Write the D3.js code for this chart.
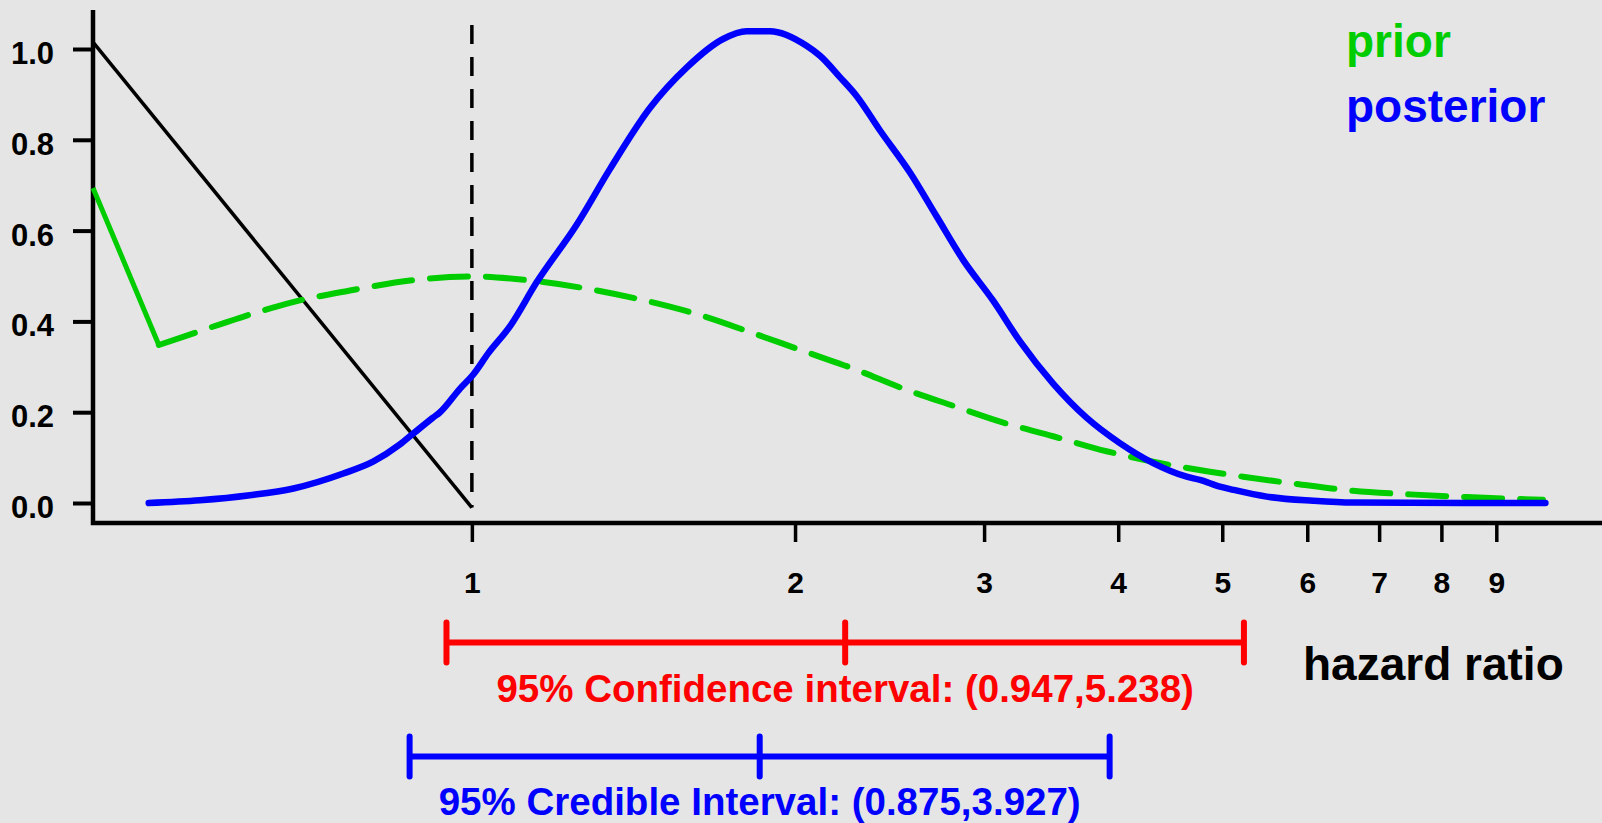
<!DOCTYPE html>
<html>
<head>
<meta charset="utf-8">
<script src="https://cdn.jsdelivr.net/npm/d3@7"></script>
<style>
  html, body { margin:0; padding:0; background:#e5e5e5; }
  svg { display:block; font-family:"Liberation Sans", Arial, Helvetica, sans-serif; font-weight:bold; }
</style>
</head>
<body>
<div id="chart-area"></div>
<script>
// hazard ratio ticks
var hrTicks = [1, 2, 3, 4, 5, 6, 7, 8, 9];
var densityTicks = [0, 0.2, 0.4, 0.6, 0.8, 1.0];

// posterior density
var postHR = [0.50, 0.558, 0.621, 0.682, 0.759, 0.809, 0.857, 0.882, 0.920, 0.934, 0.975, 1.003,
    1.036, 1.085, 1.149, 1.252, 1.345, 1.465, 1.585, 1.714, 1.803, 1.895, 2.050, 2.110, 2.202,
    2.283, 2.399, 2.559, 2.710, 2.869, 3.060, 3.240, 3.479, 3.737, 4.014, 4.312, 4.633, 4.767,
    4.975, 5.120, 5.500, 6.074, 6.618, 10.0];
var postDens = [0.000, 0.006, 0.017, 0.032, 0.065, 0.091, 0.129, 0.153, 0.188, 0.200, 0.252, 0.283,
    0.330, 0.389, 0.486, 0.613, 0.736, 0.870, 0.959, 1.022, 1.039, 1.039, 1.007, 0.985, 0.938,
    0.896, 0.821, 0.728, 0.631, 0.535, 0.445, 0.356, 0.263, 0.188, 0.132, 0.088, 0.058, 0.051,
    0.036, 0.029, 0.014, 0.005, 0.001, 0.000];

// prior density, dashed part
var priorHR = [0.511, 0.546, 0.608, 0.677, 0.770, 0.882, 1.003, 1.124, 1.288, 1.455, 1.631, 1.828,
    2.035, 2.110, 2.266, 2.522, 2.808, 3.126, 3.479, 3.901, 4.312, 4.870, 5.228, 5.866, 6.618,
    7.478, 8.446, 9.947];
var priorDens = [0.348, 0.371, 0.408, 0.441, 0.468, 0.491, 0.499, 0.491, 0.471, 0.445, 0.414, 0.374,
    0.335, 0.322, 0.296, 0.252, 0.214, 0.177, 0.147, 0.114, 0.091, 0.069, 0.058, 0.042, 0.027,
    0.019, 0.013, 0.007];

// prior, solid piece at the left edge
var priorEdgeHR = [0.4437, 0.511];
var priorEdgeDens = [0.694, 0.348];

// black straight line
var blackHR = [0.4437, 1];
var blackDens = [1.015, -0.01];

// reference line at HR = 1
var refHR = 1;
var refDens = [-0.01, 1.053];

// intervals [low, point, high]
var confInt = [0.947, 2.227, 5.238];
var credInt = [0.875, 1.854, 3.927];
var confLabel = "95% Confidence interval: (0.947,5.238)";
var credLabel = "95% Credible Interval: (0.875,3.927)";

var W = 1602, H = 823;
var plot = { left:93, right:1602, top:10, bottom:523 };

var svg = d3.select("#chart-area")
    .append("svg")
        .attr("width", W)
        .attr("height", H);

svg.append("rect")
    .attr("width", W)
    .attr("height", H)
    .attr("fill", "#e5e5e5");

var x = d3.scaleLog()
    .domain([0.4437, 11.29])
    .range([plot.left, plot.right]);
var y = d3.scaleLinear()
    .domain([0, 1])
    .range([503, 49]);

function zipPts(xs, ys) {
    return xs.map(function(d, i){ return [d, ys[i]]; });
}

var line = d3.line()
    .x(function(d){ return x(d[0]); })
    .y(function(d){ return y(d[1]); });
var smoothLine = d3.line()
    .curve(d3.curveMonotoneX)
    .x(function(d){ return x(d[0]); })
    .y(function(d){ return y(d[1]); });

// axes
var yAxisCall = d3.axisLeft(y)
    .tickValues(densityTicks)
    .tickSize(20)
    .tickFormat(d3.format(".1f"));
var yAxis = svg.append("g")
    .attr("transform", "translate(" + plot.left + ",0)")
    .call(yAxisCall);
yAxis.select(".domain").remove();
yAxis.selectAll("line").attr("stroke", "#000").attr("stroke-width", 4);
yAxis.selectAll("text")
    .attr("x", -39)
    .attr("dy", 14.5)
    .attr("font-size", "31px")
    .attr("font-family", "Liberation Sans, Arial, sans-serif")
    .attr("font-weight", "bold")
    .attr("fill", "#000");

var xAxisCall = d3.axisBottom(x)
    .tickValues(hrTicks)
    .tickSize(19)
    .tickFormat(d3.format("d"));
var xAxis = svg.append("g")
    .attr("transform", "translate(0," + plot.bottom + ")")
    .call(xAxisCall);
xAxis.select(".domain").remove();
xAxis.selectAll("line").attr("stroke", "#000").attr("stroke-width", 3.5);
xAxis.selectAll("text")
    .attr("y", 70)
    .attr("dy", 0)
    .attr("font-size", "30px")
    .attr("font-family", "Liberation Sans, Arial, sans-serif")
    .attr("font-weight", "bold")
    .attr("fill", "#000");

// frame lines (left and bottom)
svg.append("path")
    .attr("d", "M" + plot.left + "," + plot.top + "V" + plot.bottom + "H" + plot.right)
    .attr("fill", "none")
    .attr("stroke", "#000")
    .attr("stroke-width", 4.5);

// reference dashed line
svg.append("line")
    .attr("x1", x(refHR)).attr("x2", x(refHR))
    .attr("y1", y(refDens[1])).attr("y2", y(refDens[0]))
    .attr("stroke", "#000")
    .attr("stroke-width", 3.5)
    .attr("stroke-dasharray", "19,13");

// black line
svg.append("path")
    .attr("d", line(zipPts(blackHR, blackDens)))
    .attr("fill", "none")
    .attr("stroke", "#000")
    .attr("stroke-width", 3.5);

// prior
svg.append("path")
    .attr("d", line(zipPts(priorEdgeHR, priorEdgeDens)))
    .attr("fill", "none")
    .attr("stroke", "#00cd00")
    .attr("stroke-width", 5)
    .attr("stroke-linejoin", "round");
svg.append("path")
    .attr("d", smoothLine(zipPts(priorHR, priorDens)))
    .attr("fill", "none")
    .attr("stroke", "#00cd00")
    .attr("stroke-width", 6)
    .attr("stroke-linecap", "round")
    .attr("stroke-linejoin", "round")
    .attr("stroke-dasharray", "38,18");

// posterior
svg.append("path")
    .attr("d", smoothLine(zipPts(postHR, postDens)))
    .attr("fill", "none")
    .attr("stroke", "#0000ff")
    .attr("stroke-width", 6.5)
    .attr("stroke-linecap", "round")
    .attr("stroke-linejoin", "round");

// legend
svg.append("text")
    .attr("x", 1346).attr("y", 57)
    .attr("font-size", "46px")
    .attr("fill", "#00cd00")
    .text("prior");
svg.append("text")
    .attr("x", 1346).attr("y", 122)
    .attr("font-size", "46px")
    .attr("fill", "#0000ff")
    .text("posterior");

svg.append("text")
    .attr("x", 1303).attr("y", 680)
    .attr("font-size", "46px")
    .attr("fill", "#000")
    .text("hazard ratio");

// interval bars
function drawInterval(vals, yc, color, label, labelY) {
    var gI = svg.append("g")
        .attr("stroke", color)
        .attr("stroke-width", 6)
        .attr("stroke-linecap", "round");
    gI.append("line")
        .attr("x1", x(vals[0])).attr("x2", x(vals[2]))
        .attr("y1", yc).attr("y2", yc)
        .attr("stroke-linecap", "butt");
    gI.selectAll(".cap")
        .data(vals)
        .enter()
        .append("line")
        .attr("class", "cap")
        .attr("x1", function(d){ return x(d); })
        .attr("x2", function(d){ return x(d); })
        .attr("y1", yc - 20)
        .attr("y2", yc + 20);
    svg.append("text")
        .attr("x", x(vals[1]))
        .attr("y", labelY)
        .attr("text-anchor", "middle")
        .attr("font-size", "38.5px")
        .attr("fill", color)
        .text(label);
}
drawInterval(confInt, 642.5, "#ff0000", confLabel, 702);
drawInterval(credInt, 756.5, "#0000ff", credLabel, 815);
</script>
</body>
</html>
